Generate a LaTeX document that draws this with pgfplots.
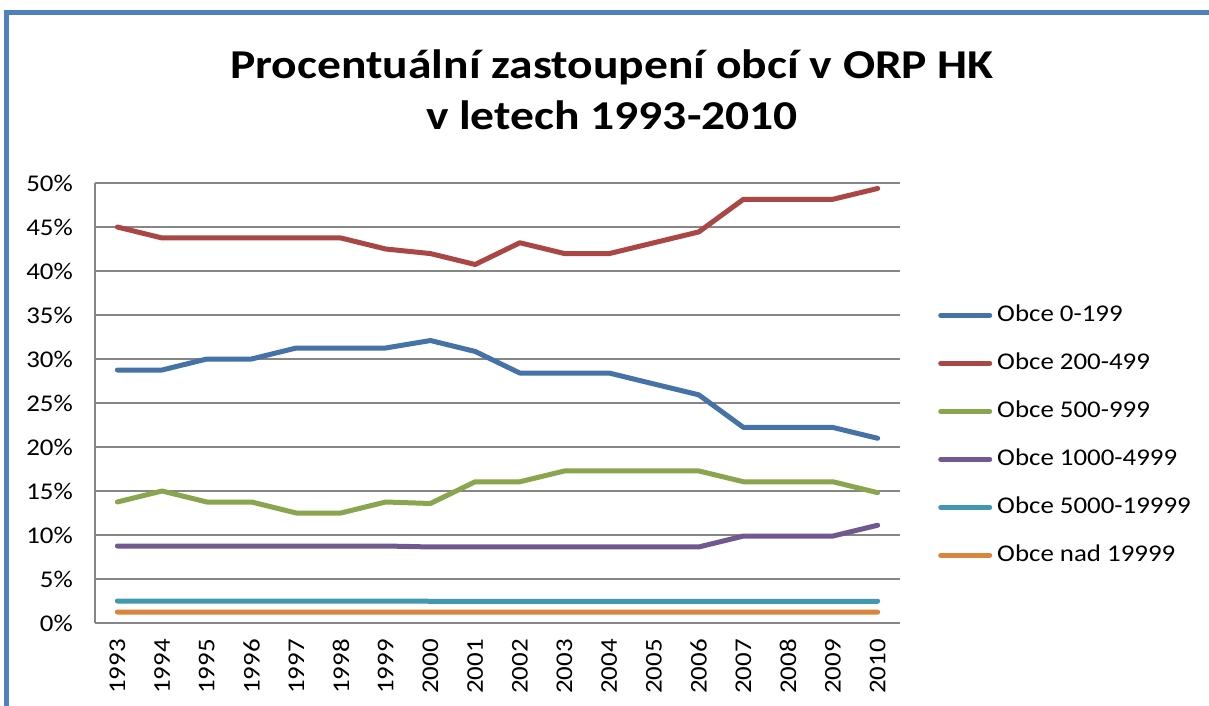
\documentclass[border=0pt]{standalone}
\usepackage{pgfplots}
\pgfplotsset{compat=1.18}
\usepackage{fontspec}
\setmainfont{Carlito}[FakeStretch=1.12]
\newfontfamily\titlefont{Carlito}[FakeStretch=1.16]
\definecolor{frameblue}{HTML}{4F81BD}
\definecolor{gridgray}{HTML}{868686}
\definecolor{cA}{HTML}{4572A7}
\definecolor{cB}{HTML}{AA4643}
\definecolor{cC}{HTML}{89A54E}
\definecolor{cD}{HTML}{71588F}
\definecolor{cE}{HTML}{4198AF}
\definecolor{cF}{HTML}{DB843D}
\begin{document}
\begin{tikzpicture}
\path[use as bounding box] (-95pt,-83pt) rectangle (1114pt,623pt);
\fill[white] (-95pt,-83pt) rectangle (1114pt,623pt);
\draw[frameblue, line width=5pt] (-88.5pt,-90pt) -- (-88.5pt,610.5pt) -- (1120pt,610.5pt);
\begin{axis}[
  at={(0pt,0pt)}, anchor=south west,
  scale only axis, width=805pt, height=440pt,
  xmin=1992.5, xmax=2010.5, ymin=0, ymax=50,
  xtick={1993,...,2010}, ytick={0,5,...,50},
  /pgf/number format/1000 sep={},
  /pgf/number format/assume math mode=true,
  yticklabel={\pgfmathprintnumber{\tick}\%},
  ticklabel style={font=\fontsize{24}{24}\selectfont},
  xticklabel style={rotate=90, anchor=east, xshift=-19pt+3pt, inner sep=0pt},
  yticklabel style={anchor=east, xshift=-25pt+3pt, inner sep=0pt},
  major tick length=0pt,
  axis x line*=bottom, axis y line*=left,
  axis line style={gridgray, line width=1.3pt, -},
  ymajorgrids, grid style={gridgray, line width=1.3pt},
  every axis plot/.append style={line width=5pt, line cap=round, line join=round, mark=none},
  legend image code/.code={\draw[#1] (2.5pt,0pt) -- (51.5pt,0pt);},
  legend cell align=left,
  legend style={draw=none, fill=none, at={(rel axis cs:1.0435,0.7295)}, anchor=north west,
    font=\fontsize{24}{24}\selectfont,
    nodes={inner sep=0pt, text height=17pt, text depth=5pt},
    row sep=26pt, column sep=5pt},
  clip=false,
]
\addplot[cA] coordinates {(1993,28.75)(1994,28.75)(1995,30.00)(1996,30.00)(1997,31.25)(1998,31.25)(1999,31.25)(2000,32.10)(2001,30.86)(2002,28.40)(2003,28.40)(2004,28.40)(2005,27.16)(2006,25.93)(2007,22.22)(2008,22.22)(2009,22.22)(2010,20.99)};
\addlegendentry{Obce 0-199}
\addplot[cB] coordinates {(1993,45.00)(1994,43.75)(1995,43.75)(1996,43.75)(1997,43.75)(1998,43.75)(1999,42.50)(2000,41.98)(2001,40.74)(2002,43.21)(2003,41.98)(2004,41.98)(2005,43.21)(2006,44.44)(2007,48.15)(2008,48.15)(2009,48.15)(2010,49.38)};
\addlegendentry{Obce 200-499}
\addplot[cC] coordinates {(1993,13.75)(1994,15.00)(1995,13.75)(1996,13.75)(1997,12.50)(1998,12.50)(1999,13.75)(2000,13.58)(2001,16.05)(2002,16.05)(2003,17.28)(2004,17.28)(2005,17.28)(2006,17.28)(2007,16.05)(2008,16.05)(2009,16.05)(2010,14.81)};
\addlegendentry{Obce 500-999}
\addplot[cD] coordinates {(1993,8.75)(1994,8.75)(1995,8.75)(1996,8.75)(1997,8.75)(1998,8.75)(1999,8.75)(2000,8.64)(2001,8.64)(2002,8.64)(2003,8.64)(2004,8.64)(2005,8.64)(2006,8.64)(2007,9.88)(2008,9.88)(2009,9.88)(2010,11.11)};
\addlegendentry{Obce 1000-4999}
\addplot[cE] coordinates {(1993,2.50)(1994,2.50)(1995,2.50)(1996,2.50)(1997,2.50)(1998,2.50)(1999,2.50)(2000,2.47)(2001,2.47)(2002,2.47)(2003,2.47)(2004,2.47)(2005,2.47)(2006,2.47)(2007,2.47)(2008,2.47)(2009,2.47)(2010,2.47)};
\addlegendentry{Obce 5000-19999}
\addplot[cF] coordinates {(1993,1.25)(1994,1.25)(1995,1.25)(1996,1.25)(1997,1.25)(1998,1.25)(1999,1.25)(2000,1.23)(2001,1.23)(2002,1.23)(2003,1.23)(2004,1.23)(2005,1.23)(2006,1.23)(2007,1.23)(2008,1.23)(2009,1.23)(2010,1.23)};
\addlegendentry{Obce nad 19999}
\end{axis}
\node[anchor=base, inner sep=0pt, font=\fontsize{41}{41}\selectfont\titlefont\bfseries] at (517pt,544pt) {Procentuální zastoupení obcí v ORP HK};
\node[anchor=base, inner sep=0pt, font=\fontsize{41}{41}\selectfont\titlefont\bfseries] at (517pt,493pt) {v letech 1993-2010};
\end{tikzpicture}
\end{document}
